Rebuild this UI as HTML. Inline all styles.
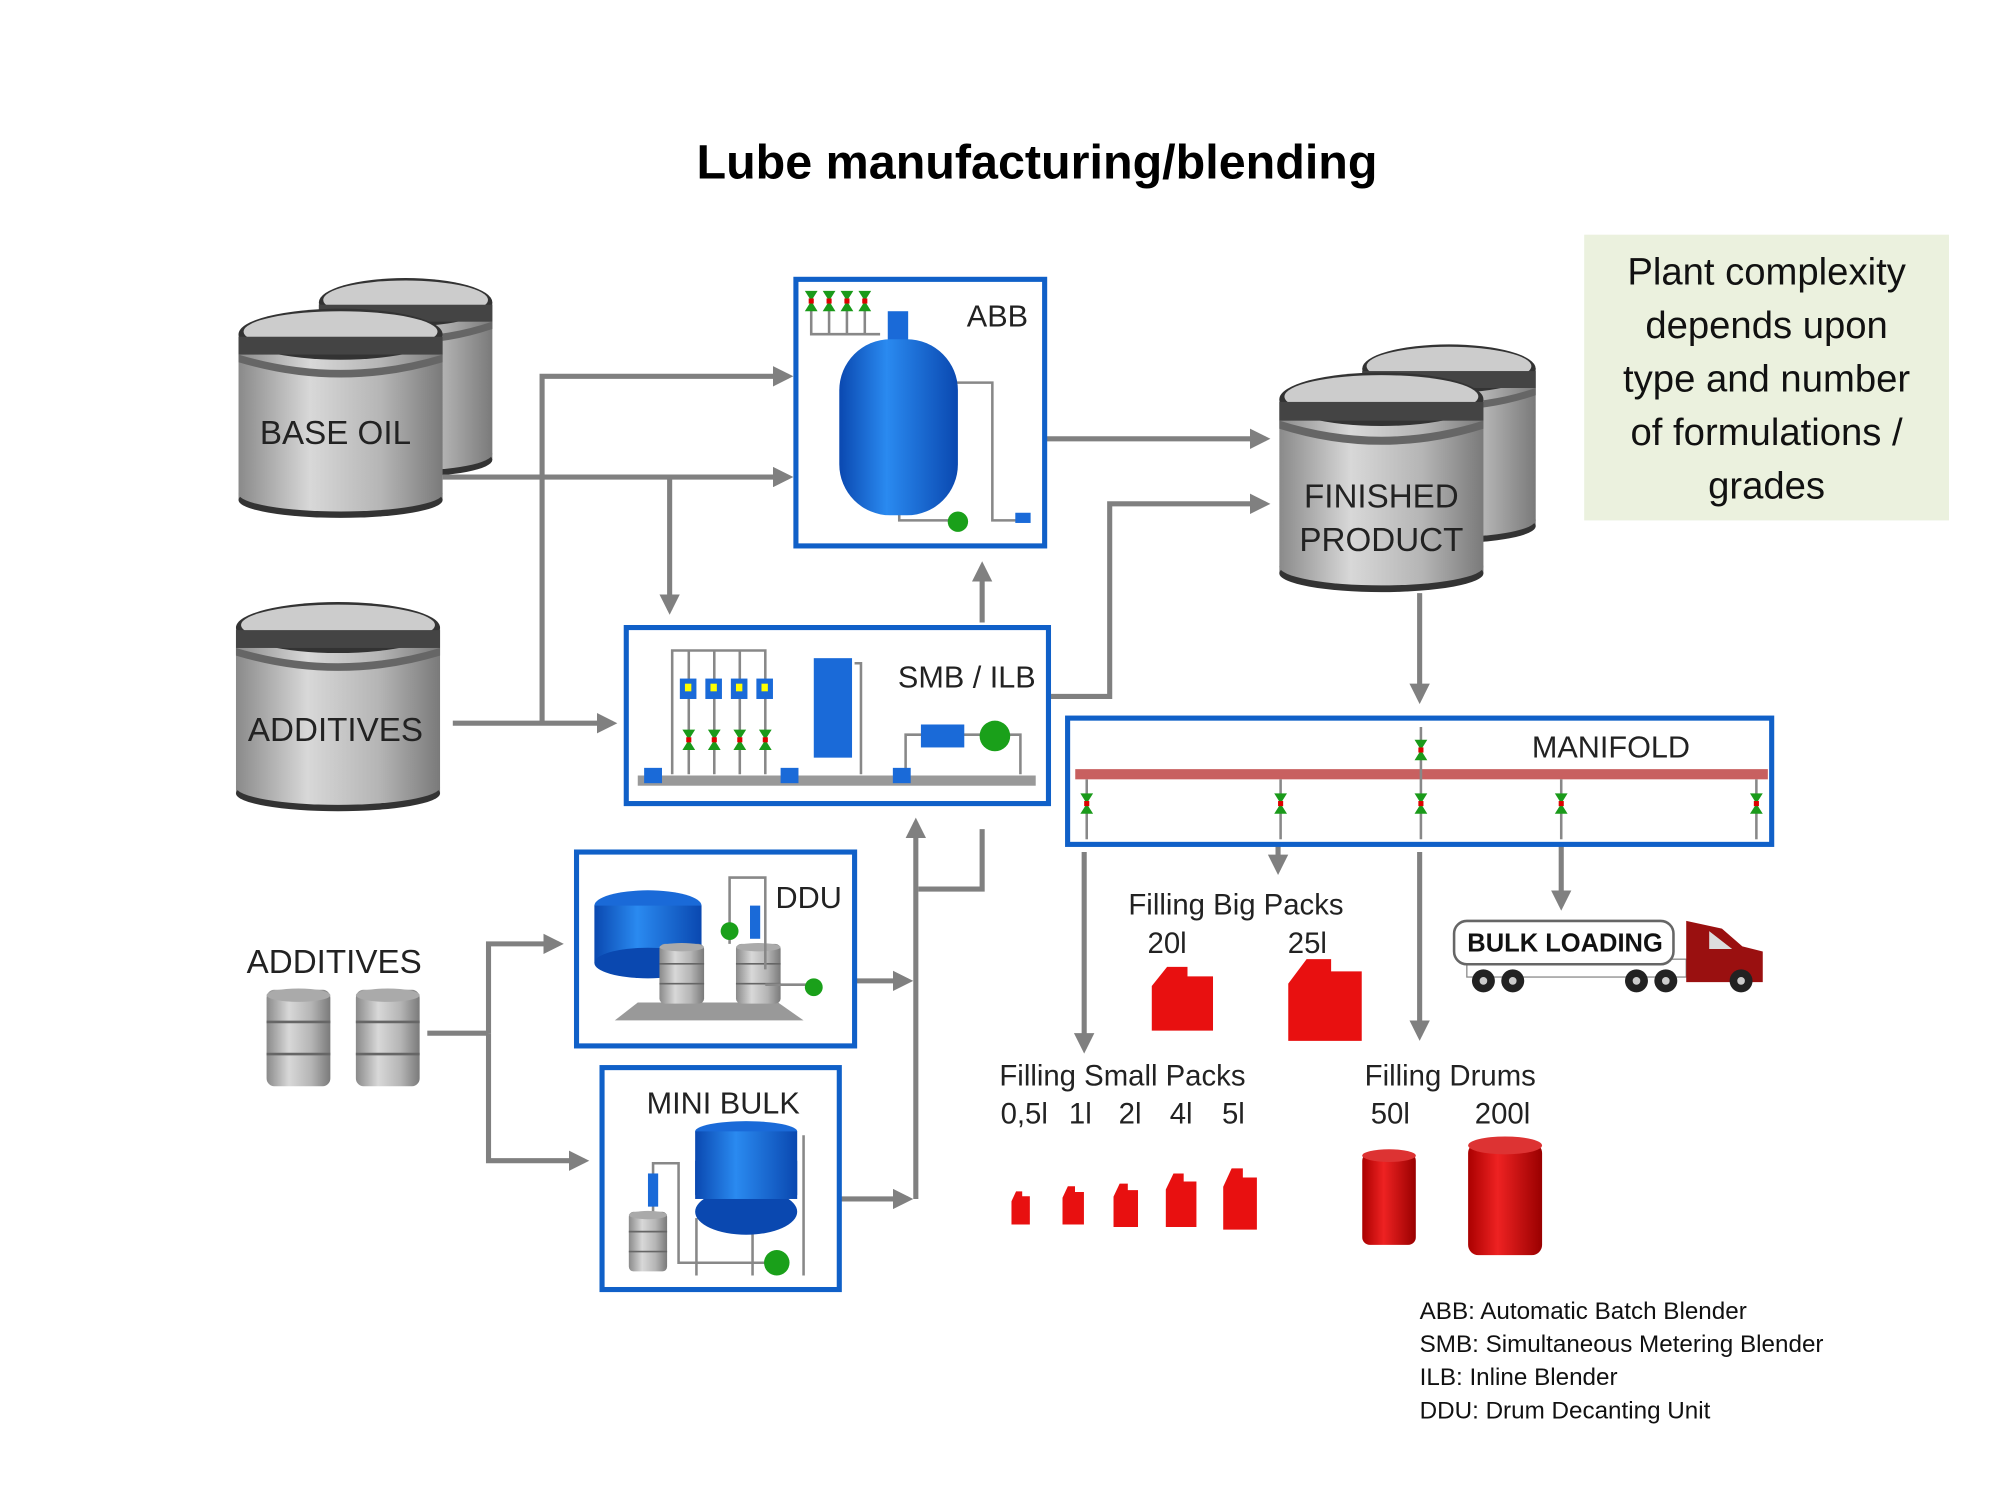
<!DOCTYPE html>
<html><head><meta charset="utf-8"><style>
html,body{margin:0;padding:0;background:#fff;width:2000px;height:1500px;overflow:hidden}
svg{display:block}
.t{font-family:"Liberation Sans",sans-serif;fill:#222}
.c{font-family:"Liberation Sans Narrow","Liberation Sans",sans-serif;fill:#000}
</style></head><body>
<svg width="2000" height="1500" viewBox="0 0 1568 1176" preserveAspectRatio="none" xmlns="http://www.w3.org/2000/svg">
<defs>
<linearGradient id="tg" x1="0" x2="1"><stop offset="0" stop-color="#8a8a8a"/><stop offset="0.35" stop-color="#d8d8d8"/><stop offset="0.7" stop-color="#b5b5b5"/><stop offset="1" stop-color="#7a7a7a"/></linearGradient>
<linearGradient id="bg" x1="0" x2="1"><stop offset="0" stop-color="#0a48b0"/><stop offset="0.4" stop-color="#2a8af0"/><stop offset="1" stop-color="#0a48b0"/></linearGradient>
<linearGradient id="rg" x1="0" x2="1"><stop offset="0" stop-color="#a00"/><stop offset="0.4" stop-color="#e22"/><stop offset="1" stop-color="#900"/></linearGradient>
<marker id="a" markerWidth="4" markerHeight="4" refX="3" refY="2" orient="auto" markerUnits="strokeWidth"><path d="M0,0 L4,2 L0,4z" fill="#808080"/></marker>
<g id="tank">
<rect x="0" y="20" width="160" height="130" fill="url(#tg)"/>
<ellipse cx="80" cy="150" rx="80" ry="14" fill="#333"/>
<ellipse cx="80" cy="145" rx="80" ry="14" fill="url(#tg)"/>
<ellipse cx="80" cy="20" rx="80" ry="20" fill="#333"/>
<ellipse cx="80" cy="18" rx="76" ry="16" fill="#ccc"/>
<rect x="0" y="22" width="160" height="14" fill="#444"/>
<path d="M0,36 Q80,60 160,36 L160,42 Q80,66 0,42z" fill="#666"/>
</g>
<g id="drum"><rect x="0" y="0" width="50" height="72" rx="6" fill="url(#tg)"/><ellipse cx="25" cy="4" rx="25" ry="5" fill="#aaa"/><line x1="0" y1="24" x2="50" y2="24" stroke="#666" stroke-width="2"/><line x1="0" y1="48" x2="50" y2="48" stroke="#666" stroke-width="2"/></g>
<g id="can"><path d="M0,12 L6,0 L14,0 L14,6 L24,6 L24,40 L0,40z" fill="#e81010"/></g>
<g id="valve"><path d="M-5,-8 L5,-8 L0,0z M-5,8 L5,8 L0,0z" fill="#1a9a1a"/><rect x="-2" y="-2" width="4" height="4" fill="#d00"/></g>
</defs>

<text x="813" y="140" text-anchor="middle" class="c" style="font-size:38px;font-weight:bold">Lube manufacturing/blending</text>

<rect x="1242" y="184" width="286" height="224" fill="#ebf1de"/>
<g class="t" style="font-family:'Liberation Sans Narrow','Liberation Sans',sans-serif;font-size:30px;fill:#111" text-anchor="middle">
<text x="1385" y="223">Plant complexity</text><text x="1385" y="265">depends upon</text><text x="1385" y="307">type and number</text><text x="1385" y="349">of formulations /</text><text x="1385" y="391">grades</text></g>

<use href="#tank" transform="translate(250,218) scale(0.85,0.95)"/>
<use href="#tank" transform="translate(187,242)"/>
<text x="263" y="348" text-anchor="middle" class="t" style="font-size:26px">BASE OIL</text>
<use href="#tank" transform="translate(185,472)"/>
<text x="263" y="581" text-anchor="middle" class="t" style="font-size:26px">ADDITIVES</text>
<use href="#tank" transform="translate(1068,270) scale(0.85,0.95)"/>
<use href="#tank" transform="translate(1003,292) scale(1,1.05)"/>
<text x="1083" y="398" text-anchor="middle" class="t" style="font-size:26px">FINISHED</text>
<text x="1083" y="432" text-anchor="middle" class="t" style="font-size:26px">PRODUCT</text>

<g stroke="#808080" stroke-width="4" fill="none">
<polyline points="425,567 425,295 618,295" marker-end="url(#a)"/>
<line x1="347" y1="374" x2="618" y2="374" marker-end="url(#a)"/>
<line x1="525" y1="374" x2="525" y2="478" marker-end="url(#a)"/>
<line x1="355" y1="567" x2="480" y2="567" marker-end="url(#a)"/>
<line x1="770" y1="488" x2="770" y2="444" marker-end="url(#a)"/>
<line x1="820" y1="344" x2="992" y2="344" marker-end="url(#a)"/>
<polyline points="822,546 870,546 870,395 992,395" marker-end="url(#a)"/>
<line x1="1113" y1="465" x2="1113" y2="548" marker-end="url(#a)"/>
<line x1="850" y1="668" x2="850" y2="822" marker-end="url(#a)"/>
<line x1="1002" y1="662" x2="1002" y2="682" marker-end="url(#a)"/>
<line x1="1113" y1="668" x2="1113" y2="812" marker-end="url(#a)"/>
<line x1="1224" y1="662" x2="1224" y2="710" marker-end="url(#a)"/>
<polyline points="335,810 383,810"/>
<polyline points="383,810 383,740 438,740" marker-end="url(#a)"/>
<polyline points="383,810 383,910 458,910" marker-end="url(#a)"/>
<line x1="670" y1="769" x2="712" y2="769" marker-end="url(#a)"/>
<line x1="658" y1="940" x2="712" y2="940" marker-end="url(#a)"/>
<line x1="718" y1="940" x2="718" y2="645" marker-end="url(#a)"/>
<polyline points="770,650 770,697 720,697"/>
</g>

<rect x="624" y="219" width="195" height="209" fill="#fff" stroke="#1060c8" stroke-width="4"/>
<text x="806" y="256" text-anchor="end" class="t" style="font-size:24px">ABB</text>
<g stroke="#888" stroke-width="2" fill="none"><path d="M636,232 V262 H690 M650,232 V262 M664,232 V262 M678,232 V262"/><path d="M740,300 H778 V408 H800 M705,400 V408 H745"/></g>
<use href="#valve" transform="translate(636,236)"/><use href="#valve" transform="translate(650,236)"/><use href="#valve" transform="translate(664,236)"/><use href="#valve" transform="translate(678,236)"/>
<rect x="696" y="244" width="16" height="30" fill="#1a6ad8"/>
<rect x="658" y="266" width="93" height="138" rx="40" fill="url(#bg)"/>
<circle cx="751" cy="409" r="8" fill="#1aa01a"/>
<rect x="796" y="402" width="12" height="8" fill="#1a6ad8"/>

<rect x="491" y="492" width="331" height="138" fill="#fff" stroke="#1060c8" stroke-width="4"/>
<text x="812" y="539" text-anchor="end" class="t" style="font-size:24px">SMB / ILB</text>
<rect x="500" y="608" width="312" height="8" fill="#999"/>
<g stroke="#888" stroke-width="2" fill="none"><path d="M527,607 V510 H600 V607 M540,510 V607 M560,510 V607 M580,510 V607 M675,607 V520 H670 M710,607 V576 H800 V607"/></g>
<g fill="#1a6ad8"><rect x="533" y="532" width="13" height="16"/><rect x="553" y="532" width="13" height="16"/><rect x="573" y="532" width="13" height="16"/><rect x="593" y="532" width="13" height="16"/>
<rect x="505" y="602" width="14" height="12"/><rect x="612" y="602" width="14" height="12"/><rect x="700" y="602" width="14" height="12"/>
<rect x="638" y="516" width="30" height="78"/><rect x="722" y="568" width="34" height="18"/></g>
<g fill="#ff0"><rect x="537" y="536" width="5" height="6"/><rect x="557" y="536" width="5" height="6"/><rect x="577" y="536" width="5" height="6"/><rect x="597" y="536" width="5" height="6"/></g>
<use href="#valve" transform="translate(540,580)"/><use href="#valve" transform="translate(560,580)"/><use href="#valve" transform="translate(580,580)"/><use href="#valve" transform="translate(600,580)"/>
<circle cx="780" cy="577" r="12" fill="#1aa01a"/>

<rect x="837" y="563" width="552" height="99" fill="#fff" stroke="#1060c8" stroke-width="4"/>
<text x="1325" y="594" text-anchor="end" class="t" style="font-size:24px">MANIFOLD</text>
<rect x="843" y="603" width="543" height="8" fill="#c86060"/>
<g stroke="#888" stroke-width="2"><line x1="852" y1="611" x2="852" y2="658"/><line x1="1004" y1="611" x2="1004" y2="658"/><line x1="1114" y1="570" x2="1114" y2="658"/><line x1="1224" y1="611" x2="1224" y2="658"/><line x1="1377" y1="611" x2="1377" y2="658"/></g>
<use href="#valve" transform="translate(852,630)"/><use href="#valve" transform="translate(1004,630)"/><use href="#valve" transform="translate(1114,630)"/><use href="#valve" transform="translate(1224,630)"/><use href="#valve" transform="translate(1377,630)"/><use href="#valve" transform="translate(1114,588)"/>

<rect x="452" y="668" width="218" height="152" fill="#fff" stroke="#1060c8" stroke-width="4"/>
<text x="660" y="712" text-anchor="end" class="t" style="font-size:24px">DDU</text>
<path d="M482,800 L630,800 L610,786 L500,786z" fill="#999"/>
<ellipse cx="508" cy="710" rx="42" ry="12" fill="#1a6ad8"/><rect x="466" y="710" width="84" height="45" fill="url(#bg)"/><ellipse cx="508" cy="755" rx="42" ry="12" fill="#0a48b0"/>
<use href="#drum" transform="translate(517,740) scale(0.7,0.65)"/><use href="#drum" transform="translate(577,740) scale(0.7,0.65)"/>
<g stroke="#888" stroke-width="2" fill="none"><path d="M572,740 V688 H600 V760 M600,772 H640"/></g>
<circle cx="572" cy="730" r="7" fill="#1aa01a"/><rect x="588" y="710" width="8" height="26" fill="#1a6ad8"/><circle cx="638" cy="774" r="7" fill="#1aa01a"/>

<rect x="472" y="837" width="186" height="174" fill="#fff" stroke="#1060c8" stroke-width="4"/>
<text x="567" y="873" text-anchor="middle" class="t" style="font-size:24px">MINI  BULK</text>
<g stroke="#888" stroke-width="2" fill="none"><path d="M512,955 V912 H532 V990 H600 M546,955 V1000 M590,955 V1000 M630,890 V1000"/></g>
<ellipse cx="585" cy="887" rx="40" ry="8" fill="#1a6ad8"/><rect x="545" y="887" width="80" height="50" fill="url(#bg)"/><ellipse cx="585" cy="950" rx="40" ry="18" fill="#0a48b0"/><rect x="545" y="910" width="80" height="30" fill="url(#bg)"/>
<rect x="508" y="920" width="8" height="26" fill="#1a6ad8"/>
<use href="#drum" transform="translate(493,950) scale(0.6,0.65)"/>
<circle cx="609" cy="990" r="10" fill="#1aa01a"/>

<text x="262" y="763" text-anchor="middle" class="t" style="font-size:26px">ADDITIVES</text>
<use href="#drum" transform="translate(209,776) scale(1,1.05)"/><use href="#drum" transform="translate(279,776) scale(1,1.05)"/>

<g class="t" style="font-size:23px">
<text x="969" y="717" text-anchor="middle">Filling Big Packs</text>
<text x="915" y="747" text-anchor="middle">20l</text><text x="1025" y="747" text-anchor="middle">25l</text>
<text x="880" y="851" text-anchor="middle">Filling Small Packs</text>
<text x="803" y="881" text-anchor="middle">0,5l</text><text x="847" y="881" text-anchor="middle">1l</text><text x="886" y="881" text-anchor="middle">2l</text><text x="926" y="881" text-anchor="middle">4l</text><text x="967" y="881" text-anchor="middle">5l</text>
<text x="1137" y="851" text-anchor="middle">Filling Drums</text>
<text x="1090" y="881" text-anchor="middle">50l</text><text x="1178" y="881" text-anchor="middle">200l</text>
</g>
<use href="#can" transform="translate(903,758) scale(2,1.25)"/>
<use href="#can" transform="translate(1010,752) scale(2.4,1.6)"/>
<use href="#can" transform="translate(793,934) scale(0.6,0.65)"/>
<use href="#can" transform="translate(833,930) scale(0.7,0.75)"/>
<use href="#can" transform="translate(873,928) scale(0.8,0.85)"/>
<use href="#can" transform="translate(914,920) scale(1,1.05)"/>
<use href="#can" transform="translate(959,916) scale(1.1,1.2)"/>
<g><rect x="1068" y="904" width="42" height="72" rx="6" fill="url(#rg)"/><ellipse cx="1089" cy="906" rx="21" ry="5" fill="#d33"/>
<rect x="1151" y="896" width="58" height="88" rx="8" fill="url(#rg)"/><ellipse cx="1180" cy="898" rx="29" ry="7" fill="#d33"/></g>

<rect x="1150" y="752" width="172" height="14" fill="#fff" stroke="#888"/>
<rect x="1140" y="722" width="172" height="34" rx="10" fill="#fff" stroke="#666" stroke-width="2"/>
<text x="1227" y="746" text-anchor="middle" class="t" style="font-size:20px;font-weight:bold;fill:#111">BULK LOADING</text>
<path d="M1322,722 L1350,728 L1366,742 L1382,746 L1382,770 L1322,770z" fill="#9a1010"/>
<path d="M1340,730 L1358,744 L1340,744z" fill="#ddd"/>
<g fill="#222"><circle cx="1163" cy="769" r="9"/><circle cx="1186" cy="769" r="9"/><circle cx="1283" cy="769" r="9"/><circle cx="1306" cy="769" r="9"/><circle cx="1365" cy="769" r="9"/></g>
<g fill="#ccc"><circle cx="1163" cy="769" r="3"/><circle cx="1186" cy="769" r="3"/><circle cx="1283" cy="769" r="3"/><circle cx="1306" cy="769" r="3"/><circle cx="1365" cy="769" r="3"/></g>

<g style="font-family:'Liberation Sans Narrow','Liberation Sans',sans-serif;font-size:19px;fill:#111">
<text x="1113" y="1034">ABB: Automatic Batch Blender</text>
<text x="1113" y="1060">SMB: Simultaneous Metering Blender</text>
<text x="1113" y="1086">ILB: Inline Blender</text>
<text x="1113" y="1112">DDU: Drum Decanting Unit</text>
</g>
</svg>
</body></html>
